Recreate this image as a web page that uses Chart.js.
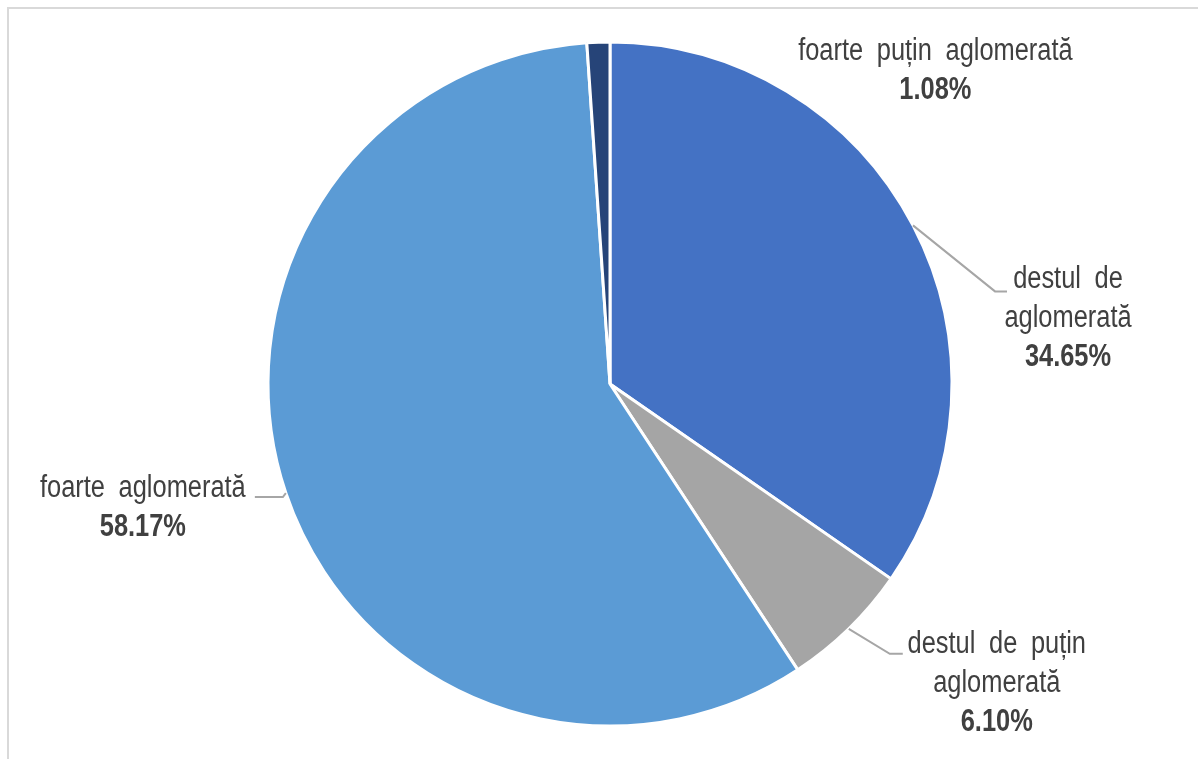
<!DOCTYPE html>
<html>
<head>
<meta charset="utf-8">
<title>Aglomerare</title>
<script src="https://cdn.jsdelivr.net/npm/chart.js@4.4.1/dist/chart.umd.min.js"></script>
<style>
    body { margin: 0; background: #fff; }
    #wrap { position: relative; width: 1198px; height: 759px; overflow: hidden; }
    #frame { position: absolute; left: 7px; top: 7px; width: 1300px; height: 900px;
             border-top: 2px solid #d9d9d9; border-left: 2px solid #d9d9d9; }
    canvas { position: absolute; left: 0; top: 0; }
</style>
</head>
<body>
<div id="wrap">
    <div id="frame"></div>
    <canvas id="myChart" width="1198" height="759"></canvas>
</div>
<script>
'use strict'

var categories = ['destul de aglomerată', 'destul de puțin aglomerată', 'foarte aglomerată', 'foarte puțin aglomerată'];
var shares = [34.65, 6.10, 58.17, 1.08];
var sliceColors = ['#4472C4', '#A5A5A5', '#5B9BD5', '#264478'];

// category names split the way they are printed next to the pie
var labelLines = [
    ['destul de', 'aglomerată'],
    ['destul de puțin', 'aglomerată'],
    ['foarte aglomerată'],
    ['foarte puțin aglomerată']
];

// offsets from the point where the leader leaves the slice edge
var labelLayout = [
    { elbow: [82, 66], tail: 12, text: [155, 54], line: true },
    { elbow: [41, 25], tail: 13, text: [148, 16], line: true },
    { elbow: [-3, 4], tail: -28, text: [-143, -5], line: true },
    { elbow: [0, 0], tail: 0, text: [337, 9], line: false }
];

// no narrow face installed, so squeeze Liberation Sans sideways
var FONT = '"Liberation Sans", Arial, sans-serif';
var SQUEEZE = 0.82;

function narrowText(ctx, text, x, y) {
    ctx.save();
    ctx.translate(x, y);
    ctx.scale(SQUEEZE, 1);
    ctx.fillText(text, 0, 0);
    ctx.restore();
}

var pieLabels = {
    id: 'pieLabels',
    afterDatasetsDraw: function (chart) {
        var ctx = chart.ctx;
        var arcs = chart.getDatasetMeta(0).data;
        ctx.save();
        arcs.forEach(function (arc, i) {
            var p = arc.getProps(['x', 'y', 'startAngle', 'endAngle', 'outerRadius'], true);
            var mid = (p.startAngle + p.endAngle) / 2;
            var sx = p.x + Math.cos(mid) * p.outerRadius;
            var sy = p.y + Math.sin(mid) * p.outerRadius;
            var lay = labelLayout[i];

            if (lay.line) {
                var ex = sx + lay.elbow[0];
                var ey = sy + lay.elbow[1];
                ctx.beginPath();
                ctx.strokeStyle = '#A6A6A6';
                ctx.lineWidth = 2;
                ctx.moveTo(sx, sy);
                ctx.lineTo(ex, ey);
                ctx.lineTo(ex + lay.tail, ey);
                ctx.stroke();
            }

            var tx = sx + lay.text[0];
            var ty = sy + lay.text[1];
            ctx.fillStyle = '#404040';
            ctx.textAlign = 'center';
            ctx.textBaseline = 'middle';
            var lines = labelLines[i];
            ctx.font = '31px ' + FONT;
            ctx.wordSpacing = '8px';
            lines.forEach(function (t, k) {
                narrowText(ctx, t, tx, ty + k * 39);
            });
            ctx.wordSpacing = '0px';
            ctx.font = 'bold 31px ' + FONT;
            narrowText(ctx, shares[i].toFixed(2) + '%', tx, ty + lines.length * 39);
        });
        ctx.restore();
    }
};

var ctx = document.getElementById('myChart').getContext('2d');

var chart = new Chart(ctx, {
    type: 'pie',
    data: {
        labels: categories,
        datasets: [{
            data: shares,
            backgroundColor: sliceColors,
            borderColor: '#ffffff',
            borderWidth: 3
        }]
    },
    options: {
        responsive: false,
        animation: false,
        devicePixelRatio: 1,
        layout: {
            padding: { left: 266.5, right: 244.5, top: 40.5, bottom: 31.5 }
        },
        plugins: {
            legend: { display: false },
            tooltip: { enabled: false }
        }
    },
    plugins: [pieLabels]
});
</script>
</body>
</html>
